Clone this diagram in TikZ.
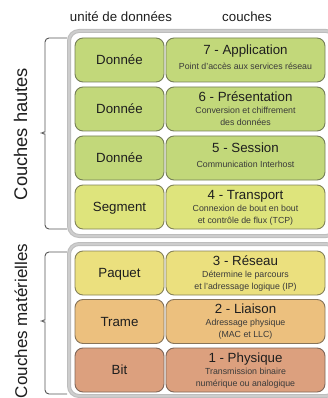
\documentclass[tikz,border=0pt]{standalone}
\usepackage{fontspec}
\setmainfont{Liberation Sans}
\definecolor{cGreen}{HTML}{C2D87A}
\definecolor{cLime}{HTML}{DEE47C}
\definecolor{cYellow}{HTML}{EBE07E}
\definecolor{cOrange}{HTML}{ECC07E}
\definecolor{cSalmon}{HTML}{DCA07E}
\definecolor{frameGray}{HTML}{BDBDBD}
\definecolor{frameLight}{HTML}{CDCDCD}
\definecolor{bracketGray}{HTML}{555555}
\definecolor{titleInk}{HTML}{1E1E1E}
\definecolor{noteInk}{HTML}{3A3A3A}
\tikzset{
  cell/.style={rectangle, rounded corners=8pt, minimum height=44pt, inner sep=0pt,
    fill=#1, draw=#1!60!gray!70!black, line width=0.9pt},
  unitcell/.style={cell=#1, minimum width=89pt, text=titleInk,
    font=\fontsize{13.3}{15}\selectfont, text height=9.5pt, text depth=0pt},
  layercell/.style={cell=#1, minimum width=159pt},
  layertitle/.style={anchor=base, inner sep=0pt, text=titleInk, font=\fontsize{13.3}{15}\selectfont},
  layernote/.style={anchor=base, inner sep=0pt, text=noteInk, font=\fontsize{8.8}{11}\selectfont},
  header/.style={anchor=base, inner sep=0pt, text=titleInk, font=\fontsize{13.3}{15}\selectfont},
  grouplabel/.style={anchor=base, rotate=90, inner sep=0pt, text=titleInk, font=\fontsize{18.3}{20}\selectfont},
  groupframe/.style={rounded corners=10pt, line width=4pt, draw=frameGray, fill=white},
  framecore/.style={rounded corners=10pt, line width=2pt, draw=frameLight},
  bracket/.style={draw=bracketGray, line width=0.9pt, rounded corners=4pt},
}
\begin{document}
\begin{tikzpicture}[x=1pt, y=-1pt]
\useasboundingbox (0,0) rectangle (328,398);
\clip (0,0) rectangle (328,398);

% column headers
\node[header] (hunit) at (121,22) {unité de données};
\node[header] (hlayer) at (247,22) {couches};

% group frames
\draw[groupframe] (69,31) rectangle (336,236);
\draw[framecore] (69,31) rectangle (336,236);
\draw[groupframe] (69,244) rectangle (336,396);
\draw[framecore] (69,244) rectangle (336,396);

% group brackets
\draw[bracket] (67,38) -- (45,38) -- (45,128)
  .. controls (45,131) and (42,133) .. (38,133)
  .. controls (42,133) and (45,135) .. (45,138) -- (45,229) -- (67,229);
\draw[bracket] (67,252) -- (45,252) -- (45,316)
  .. controls (45,319) and (42,321) .. (38,321)
  .. controls (42,321) and (45,323) .. (45,326) -- (45,394) -- (67,394);

% group labels
\node[grouplabel] (ghigh) at (27,134) {Couches hautes};
\node[grouplabel, font=\fontsize{17}{19}\selectfont] (glow) at (27,321) {Couches matérielles};

% layer 7
\node[unitcell=cGreen] (u7) at (119.5,60) {Donnée};
\node[layercell=cGreen] (l7) at (245.5,60) {};
\node[layertitle] (t7) at ([yshift=-17pt]l7.north) {7 - Application};
\node[layernote] (n7) at ([yshift=-32pt]l7.north) {Point d'accès aux services réseau};

% layer 6
\node[unitcell=cGreen] (u6) at (119.5,109) {Donnée};
\node[layercell=cGreen] (l6) at (245.5,109) {};
\node[layertitle] (t6) at ([yshift=-14.5pt]l6.north) {6 - Présentation};
\node[layernote] (n6a) at ([yshift=-26.5pt]l6.north) {Conversion et chiffrement};
\node[layernote] (n6b) at ([yshift=-38.5pt]l6.north) {des données};

% layer 5
\node[unitcell=cGreen] (u5) at (119.5,158) {Donnée};
\node[layercell=cGreen] (l5) at (245.5,158) {};
\node[layertitle] (t5) at ([yshift=-17pt]l5.north) {5 - Session};
\node[layernote] (n5) at ([yshift=-32pt]l5.north) {Communication Interhost};

% layer 4
\node[unitcell=cLime] (u4) at (119.5,207) {Segment};
\node[layercell=cLime] (l4) at (245.5,207) {};
\node[layertitle] (t4) at ([yshift=-14.5pt]l4.north) {4 - Transport};
\node[layernote] (n4a) at ([yshift=-26.5pt]l4.north) {Connexion de bout en bout};
\node[layernote] (n4b) at ([yshift=-38.5pt]l4.north) {et contrôle de flux (TCP)};

% layer 3
\node[unitcell=cYellow] (u3) at (119.5,273) {Paquet};
\node[layercell=cYellow] (l3) at (245.5,273) {};
\node[layertitle] (t3) at ([yshift=-14.5pt]l3.north) {3 - Réseau};
\node[layernote] (n3a) at ([yshift=-26.5pt]l3.north) {Détermine le parcours};
\node[layernote] (n3b) at ([yshift=-38.5pt]l3.north) {et l'adressage logique (IP)};

% layer 2
\node[unitcell=cOrange] (u2) at (119.5,321.5) {Trame};
\node[layercell=cOrange] (l2) at (245.5,321.5) {};
\node[layertitle] (t2) at ([yshift=-14.5pt]l2.north) {2 - Liaison};
\node[layernote] (n2a) at ([yshift=-26.5pt]l2.north) {Adressage physique};
\node[layernote] (n2b) at ([yshift=-38.5pt]l2.north) {(MAC et LLC)};

% layer 1
\node[unitcell=cSalmon] (u1) at (119.5,370) {Bit};
\node[layercell=cSalmon] (l1) at (245.5,370) {};
\node[layertitle] (t1) at ([yshift=-14.5pt]l1.north) {1 - Physique};
\node[layernote] (n1a) at ([yshift=-26.5pt]l1.north) {Transmission binaire};
\node[layernote] (n1b) at ([yshift=-38.5pt]l1.north) {numérique ou analogique};
\end{tikzpicture}
\end{document}
